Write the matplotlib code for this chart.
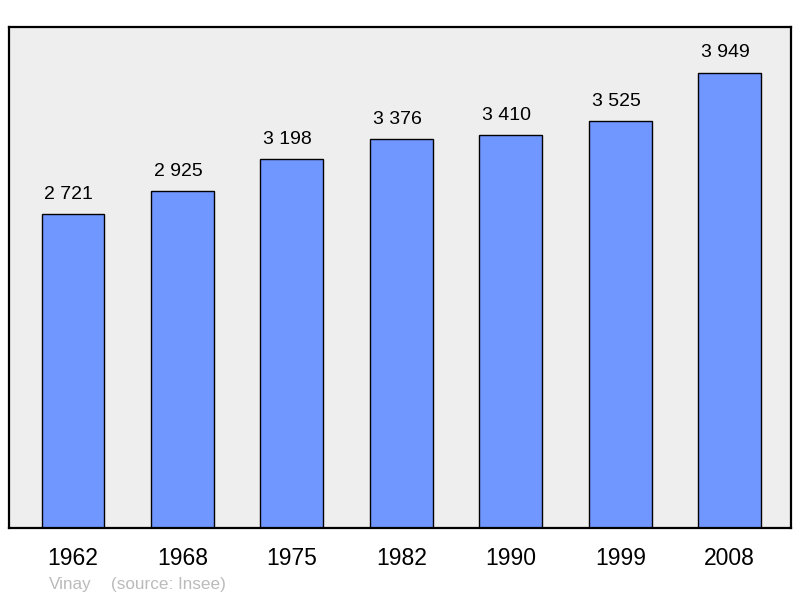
import matplotlib
matplotlib.use("Agg")
import matplotlib.pyplot as plt

years = ["1962", "1968", "1975", "1982", "1990", "1999", "2008"]
population = [2721, 2925, 3198, 3376, 3410, 3525, 3949]
value_labels = ["2 721", "2 925", "3 198", "3 376", "3 410", "3 525", "3 949"]

plt.rcParams['font.family'] = ['Liberation Sans', 'DejaVu Sans']

fig = plt.figure(figsize=(8.0, 5.98), dpi=100)
ax = fig.add_axes([9/800, 70/598, 782/800, 501/598])
ax.set_facecolor('#EEEEEE')

x = list(range(len(years)))
ax.bar(x, population, width=0.575, color='#7097FF', edgecolor='black', linewidth=1.0, zorder=2)

for xi, v, lab in zip(x, population, value_labels):
    ax.annotate(lab, (xi, v), xytext=(-3, 8), textcoords='offset points',
                ha='center', va='bottom', fontsize=14, color='black')

ax.set_xlim(-0.585, 6.56)
ax.set_ylim(0, 3949 * 1.1)
ax.set_yticks([])
ax.set_xticks(x)
ax.set_xticklabels(years, fontsize=16.5)
ax.tick_params(axis='x', length=0, pad=14)
for s in ax.spines.values():
    s.set_linewidth(1.6)
    s.set_color('black')

fig.text(49/800, 1 - 584/598, "Vinay", fontsize=12.3, color='#BBBBBB', va='center', ha='left')
fig.text(111/800, 1 - 584/598, "(source: Insee)", fontsize=12.3, color='#BBBBBB', va='center', ha='left')

fig.savefig("out.png", dpi=100)
